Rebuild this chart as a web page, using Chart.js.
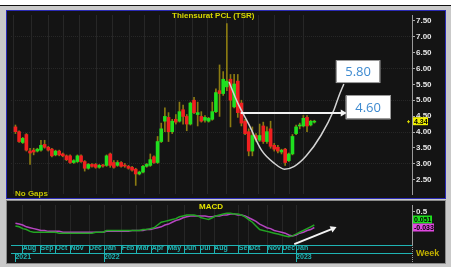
<!DOCTYPE html>
<html>
<head>
<meta charset="utf-8">
<script src="https://cdn.jsdelivr.net/npm/chart.js@4.4.1/dist/chart.umd.min.js"></script>
<style>
  html, body { margin: 0; padding: 0; }
  body { width: 451px; height: 267px; background: #c9c9c9; position: relative; overflow: hidden; font-family: "Liberation Sans", Arial, sans-serif; }
  .abs { position: absolute; }
  #topbar { left: 0; top: 0; width: 451px; height: 5px; background: #fff; border-bottom: 1px solid #111; }
  #mainBox { left: 6px; top: 10px; width: 438px; height: 187px; background: #141414; border: 1px solid #2b2bb5; }
  #lowBox { left: 6px; top: 200px; width: 438px; height: 62px; background: #141414; border: 1px solid #8a8a8a; }
  .lbl { position: absolute; font-weight: bold; white-space: nowrap; line-height: 1; }
</style>
</head>
<body>
<div id="topbar" class="abs"></div>
<div id="mainBox" class="abs"></div>
<div id="lowBox" class="abs"></div>
<canvas id="mainCanvas" class="abs" width="438" height="187" style="left:7px;top:11px"></canvas>
<canvas id="macdCanvas" class="abs" width="438" height="61" style="left:7px;top:201px"></canvas>
<div class="lbl" style="left:172px;top:12px;font-size:8px;color:#d8d800">Thiensurat PCL (TSR)</div>
<div class="lbl" style="left:15px;top:190px;font-size:8px;color:#c4c400">No Gaps</div>
<div class="lbl" style="left:199px;top:203px;font-size:8px;color:#e4e400">MACD</div>
<div class="lbl" style="left:416px;top:249px;font-size:9px;color:#bfae00">Week</div>
<script>
// weekly candles, Jul 2021 - Jan 2023 (index = week number)
const open = [4.16,4.01,3.67,3.92,3.40,3.43,3.40,3.43,3.61,3.52,3.46,3.28,3.40,3.31,3.25,3.25,3.04,3.07,3.25,3.07,2.86,2.98,2.98,2.89,2.95,2.95,3.31,3.04,2.95,3.04,2.95,2.92,2.89,2.83,2.68,2.74,2.92,2.95,3.22,3.04,3.70,4.34,4.46,4.01,4.40,4.34,4.70,4.49,4.25,5.00,4.55,4.49,4.37,4.34,4.40,4.64,5.30,5.21,5.42,5.66,4.79,5.60,4.91,4.34,4.01,3.40,3.89,3.74,4.19,3.70,4.10,3.58,3.52,3.37,3.46,3.10,3.31,3.95,4.19,4.19,4.46,4.22,4.31];
const high = [4.22,4.04,3.83,3.95,3.49,3.49,3.49,3.74,3.74,3.55,3.49,3.43,3.43,3.34,3.28,3.28,3.13,3.28,3.28,3.10,3.01,3.01,3.01,2.98,2.98,3.28,3.34,3.10,3.10,3.07,3.01,2.95,2.92,2.86,2.77,2.95,3.01,3.31,3.25,3.86,4.28,4.76,4.61,4.40,4.55,4.94,4.85,4.55,4.94,5.09,4.94,4.64,4.52,4.46,4.94,5.36,6.11,5.90,7.41,5.81,5.81,5.81,5.00,4.40,4.10,4.16,3.95,4.25,4.31,4.16,4.34,3.64,3.58,3.46,3.49,3.34,3.92,4.22,4.28,4.52,4.52,4.37,4.37];
const low = [3.95,3.67,3.64,3.40,2.98,3.28,3.37,3.40,3.49,3.40,3.22,3.25,3.25,3.22,3.10,3.01,3.01,3.04,3.04,2.77,2.83,2.89,2.86,2.86,2.89,2.92,2.89,2.86,2.92,2.89,2.89,2.83,2.77,2.32,2.65,2.71,2.89,2.92,3.01,3.01,3.67,4.01,3.70,3.95,4.25,4.31,4.25,4.04,4.22,4.58,4.19,4.31,4.31,4.31,4.37,4.61,4.49,5.15,5.30,4.16,4.76,4.46,4.19,3.92,3.25,3.25,3.70,3.70,3.64,3.64,3.49,3.40,3.34,3.31,2.95,3.07,3.28,3.92,4.10,4.16,4.01,4.19,4.28];
const close = [4.01,3.70,3.80,3.43,3.34,3.37,3.46,3.58,3.52,3.43,3.25,3.40,3.28,3.25,3.13,3.04,3.10,3.25,3.07,2.86,2.98,2.92,2.89,2.95,2.93,3.25,2.95,2.89,3.04,2.92,2.93,2.86,2.80,2.68,2.74,2.92,2.98,3.13,3.04,3.70,4.10,4.49,4.01,4.34,4.31,4.64,4.49,4.25,4.91,4.61,4.61,4.34,4.46,4.43,4.64,5.24,5.21,5.66,5.60,5.00,5.51,4.61,4.28,3.95,3.40,3.89,3.77,3.89,3.70,4.01,3.55,3.46,3.40,3.43,3.04,3.31,3.86,4.16,4.20,4.43,4.19,4.34,4.34];

// MACD (green) and signal (purple)
const macdLine = [0.02,-0.01,-0.07,-0.10,-0.16,-0.19,-0.19,-0.19,-0.19,-0.19,-0.19,-0.19,-0.22,-0.22,-0.22,-0.22,-0.22,-0.22,-0.22,-0.22,-0.22,-0.22,-0.19,-0.19,-0.19,-0.13,-0.13,-0.13,-0.13,-0.13,-0.13,-0.13,-0.13,-0.13,-0.13,-0.10,-0.10,-0.07,-0.04,0.05,0.14,0.17,0.20,0.23,0.26,0.32,0.35,0.38,0.38,0.38,0.35,0.29,0.26,0.23,0.29,0.35,0.38,0.41,0.44,0.44,0.41,0.41,0.38,0.32,0.23,0.14,0.02,-0.10,-0.13,-0.16,-0.19,-0.22,-0.25,-0.28,-0.31,-0.34,-0.31,-0.25,-0.19,-0.13,-0.07,-0.01,0.051];
const signalLine = [0.11,0.08,0.05,-0.01,-0.04,-0.07,-0.10,-0.13,-0.13,-0.16,-0.16,-0.16,-0.16,-0.19,-0.19,-0.19,-0.19,-0.19,-0.19,-0.19,-0.19,-0.19,-0.19,-0.19,-0.19,-0.16,-0.16,-0.16,-0.16,-0.16,-0.16,-0.16,-0.13,-0.13,-0.13,-0.13,-0.10,-0.10,-0.07,-0.04,-0.01,0.05,0.08,0.14,0.20,0.23,0.29,0.32,0.35,0.35,0.35,0.35,0.35,0.32,0.32,0.35,0.35,0.38,0.38,0.41,0.41,0.38,0.38,0.35,0.29,0.23,0.17,0.08,0.02,-0.04,-0.07,-0.13,-0.16,-0.19,-0.22,-0.28,-0.31,-0.28,-0.22,-0.19,-0.13,-0.10,-0.033];

// time axis labels (positions in week index)
const monthLabels = ['Aug','Sep','Oct','Nov','Dec','Jan','Feb','Mar','Apr','May','Jun','Jul','Aug','Sep','Oct','Nov','Dec','Jan'];
const monthPos = [2.0,6.9,11.0,15.1,20.2,24.3,29.2,33.3,37.4,41.7,46.3,50.7,54.5,61.3,64.0,69.2,73.2,77.0];
const yearLabels = ['2021','2022','2023'];
const yearPos = [0,24.3,77.0];
const priceTicks = [2.5,3.0,3.5,4.0,4.5,5.0,5.5,6.0,6.5,7.0,7.5];

// hand-drawn annotations (week index, price)
const cupX = [58.6,61.0,64.0,67.5,71.1,73.8,76.5,79.8,83.8,87.4,88.7,90.1];
const cupY = [5.57,4.91,4.25,3.43,3.01,2.83,2.92,3.25,3.89,4.70,5.12,5.51];
const targetPrice = 4.60;
const targetX = [61.8,89.8];
const calloutText = ['5.80','4.60'];
const calloutX = [[87.9,100.1],[90.6,102.9]];
const calloutY = [[6.26,5.54],[5.15,4.40]];
const macdArrowX = [76.5,87.1];
const macdArrowY = [-0.58,-0.07];

const xMin = -1.22, xMax = 108.8;
const upColor = '#1fe01f', downColor = '#f02020', wickColor = '#8b7b12';
const teal = '#1fb4b4';
const idx = open.map((_, i) => i);
const last = idx.length - 1;

function fixPad(s) { s.paddingTop = 0; s.paddingBottom = 0; s.paddingLeft = 0; s.paddingRight = 0; }

const mainPlugin = {
  id: 'mainExtras',
  afterDraw(chart) {
    const { ctx, chartArea, scales: { x, y } } = chart;
    ctx.save();
    calloutText.forEach((t, k) => {
      const l = x.getPixelForValue(calloutX[k][0]), r = x.getPixelForValue(calloutX[k][1]);
      const tp = y.getPixelForValue(calloutY[k][0]), bt = y.getPixelForValue(calloutY[k][1]);
      ctx.fillStyle = '#ffffff';
      ctx.fillRect(l, tp, r - l, bt - tp);
      ctx.strokeStyle = '#9a9a9a';
      ctx.lineWidth = 1;
      ctx.strokeRect(Math.round(l) + 0.5, Math.round(tp) + 0.5, Math.round(r - l) - 1, Math.round(bt - tp) - 1);
      ctx.fillStyle = '#3d8ad0';
      ctx.font = '13px "Open Sans", sans-serif';
      ctx.textAlign = 'center';
      ctx.textBaseline = 'middle';
      ctx.fillText(t, (l + r) / 2, (tp + bt) / 2 + 1);
    });
    // last price tag
    const py = y.getPixelForValue(close[last]);
    ctx.fillStyle = '#f0f000';
    ctx.fillRect(chartArea.right + 1, py - 4, 15, 8);
    ctx.fillStyle = '#000';
    ctx.font = 'bold 7px "Liberation Sans"';
    ctx.textAlign = 'left';
    ctx.textBaseline = 'middle';
    ctx.fillText(close[last].toFixed(2), chartArea.right + 2, py + 0.5);
    ctx.fillStyle = '#d8d800';
    ctx.fillRect(chartArea.right - 5, py, 3, 1);
    ctx.fillRect(chartArea.right - 4, py - 1, 1, 3);
    ctx.restore();
  }
};

new Chart(document.getElementById('mainCanvas'), {
  type: 'bar',
  data: {
    datasets: [
      {
        data: idx.map(i => ({ x: i, y: [low[i], high[i]] })),
        backgroundColor: wickColor, barThickness: 1, grouped: false, order: 4
      },
      {
        data: idx.map(i => ({ x: i, y: [open[i], close[i]] })),
        backgroundColor: idx.map(i => close[i] >= open[i] ? upColor : downColor),
        barThickness: 3, grouped: false, minBarLength: 1, order: 3
      },
      {
        type: 'line',
        data: cupX.map((v, k) => ({ x: v, y: cupY[k] })),
        borderColor: '#d4d4d4', borderWidth: 1.5, pointRadius: 0,
        cubicInterpolationMode: 'monotone', order: 2
      },
      {
        type: 'line',
        data: targetX.map(v => ({ x: v, y: targetPrice })),
        borderColor: '#f2f2f2', borderWidth: 2,
        pointRadius: [0, 4], pointStyle: 'triangle', pointRotation: 90,
        pointBackgroundColor: '#f2f2f2', pointBorderWidth: 0, order: 1
      }
    ]
  },
  options: {
    responsive: false, animation: false,
    layout: { padding: 0 },
    plugins: { legend: { display: false }, tooltip: { enabled: false } },
    scales: {
      x: {
        type: 'linear', min: xMin, max: xMax, offset: false,
        afterBuildTicks: s => { s.ticks = monthPos.map(v => ({ value: v })); },
        ticks: { display: false },
        grid: { color: '#272727', drawTicks: false },
        border: { display: false },
        afterFit: s => { s.height = 0; fixPad(s); }
      },
      y: {
        position: 'right', min: 2.05, max: 7.68,
        afterBuildTicks: s => { s.ticks = priceTicks.map(v => ({ value: v })); },
        ticks: { color: '#e6e6e6', font: { family: 'Liberation Sans', size: 8, weight: 'bold' }, padding: 1, callback: v => v.toFixed(2) },
        grid: {
          color: c => (c.tick && Number.isInteger(c.tick.value)) ? '#272727' : 'rgba(0,0,0,0)',
          tickColor: '#aaaaaa', tickLength: 3
        },
        border: { color: '#9a9a9a', dash: [1, 1] },
        afterFit: s => { s.width = 33; fixPad(s); }
      }
    }
  },
  plugins: [mainPlugin]
});

const macdPlugin = {
  id: 'macdExtras',
  afterDraw(chart) {
    const { ctx, chartArea, scales: { y } } = chart;
    ctx.save();
    const sy = y.getPixelForValue(signalLine[last]);
    const gTop = sy - 12, sTop = sy - 4;
    ctx.font = 'bold 7px "Liberation Sans"';
    ctx.textBaseline = 'middle';
    ctx.textAlign = 'left';
    ctx.fillStyle = '#1ee01e';
    ctx.fillRect(chartArea.right + 1, gTop, 19, 8);
    ctx.fillStyle = '#e048e0';
    ctx.fillRect(chartArea.right + 1, sTop, 21, 8);
    ctx.fillStyle = '#000';
    ctx.fillText(macdLine[last].toFixed(3), chartArea.right + 2, gTop + 4.5);
    ctx.fillText(signalLine[last].toFixed(3), chartArea.right + 2, sTop + 4.5);
    // dotted separator through the time axis
    ctx.strokeStyle = '#9a9a9a';
    ctx.setLineDash([1, 1]);
    ctx.beginPath();
    ctx.moveTo(chartArea.right + 0.5, chartArea.bottom);
    ctx.lineTo(chartArea.right + 0.5, chart.height);
    ctx.stroke();
    ctx.restore();
  }
};

new Chart(document.getElementById('macdCanvas'), {
  type: 'line',
  data: {
    datasets: [
      { data: idx.map(i => ({ x: i, y: macdLine[i] })), borderColor: '#23a523', borderWidth: 1.5, pointRadius: 0 },
      { data: idx.map(i => ({ x: i, y: signalLine[i] })), borderColor: '#b545c0', borderWidth: 1.5, pointRadius: 0 },
      {
        data: macdArrowX.map((v, k) => ({ x: v, y: macdArrowY[k] })),
        borderColor: '#f4f4f4', borderWidth: 2,
        pointRadius: [0, 4], pointStyle: 'triangle', pointRotation: 66,
        pointBackgroundColor: '#f4f4f4', pointBorderWidth: 0
      }
    ]
  },
  options: {
    responsive: false, animation: false,
    layout: { padding: 0 },
    plugins: { legend: { display: false }, tooltip: { enabled: false } },
    scales: {
      x: {
        type: 'linear', min: xMin, max: xMax, position: 'bottom',
        afterBuildTicks: s => { s.ticks = monthPos.map(v => ({ value: v })); },
        ticks: {
          autoSkip: false, maxRotation: 0, minRotation: 0, align: 'start', padding: -9,
          color: teal, font: { family: 'Liberation Sans', size: 7, weight: 'bold' },
          callback: (v, k) => monthLabels[k]
        },
        grid: { color: '#262626', tickColor: teal, tickLength: 8 },
        border: { color: teal },
        afterFit: s => { s.height = 8; fixPad(s); }
      },
      x2: {
        type: 'linear', min: xMin, max: xMax, position: 'bottom',
        afterBuildTicks: s => { s.ticks = yearPos.map(v => ({ value: v })); },
        ticks: {
          autoSkip: false, maxRotation: 0, minRotation: 0, align: 'start', padding: -9,
          color: teal, font: { family: 'Liberation Sans', size: 7, weight: 'bold' },
          callback: (v, k) => yearLabels[k]
        },
        grid: { drawOnChartArea: false, tickColor: teal, tickLength: 9 },
        border: { color: teal },
        afterFit: s => { s.height = 9; fixPad(s); }
      },
      y: {
        position: 'right', min: -0.61, max: 0.71,
        afterBuildTicks: s => { s.ticks = [{ value: 0.5 }]; },
        ticks: { color: '#e6e6e6', font: { family: 'Liberation Sans', size: 8, weight: 'bold' }, padding: 1, callback: v => String(v) },
        grid: { display: true, drawOnChartArea: false, tickColor: '#aaaaaa', tickLength: 3 },
        border: { color: '#9a9a9a', dash: [1, 1] },
        afterFit: s => { s.width = 33; fixPad(s); }
      }
    }
  },
  plugins: [macdPlugin]
});
</script>
</body>
</html>
